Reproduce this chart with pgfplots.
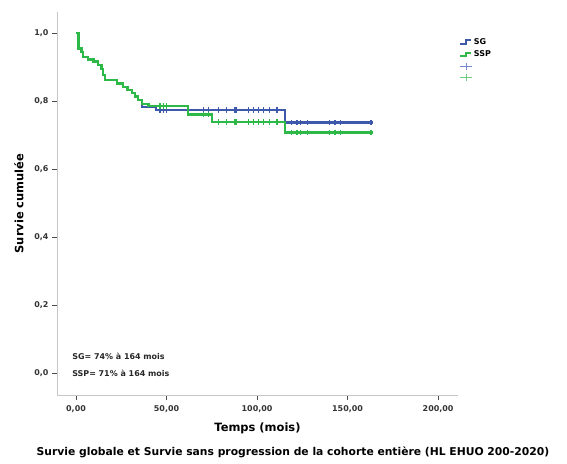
\documentclass[border=0pt]{standalone}
\usepackage{fontspec}
\setmainfont{DejaVu Sans}
\usepackage{pgfplots}
\pgfplotsset{compat=1.18}
\definecolor{sgblue}{RGB}{62,88,172}
\definecolor{sspgreen}{RGB}{46,184,72}
\definecolor{sgblueL}{RGB}{120,135,205}
\definecolor{sspgreenL}{RGB}{115,205,130}
\pgfplotsset{
  stepleg/.style={legend image code/.code={\draw[##1] (0bp,-1.8bp)--(5.5bp,-1.8bp)--(5.5bp,1.8bp)--(11bp,1.8bp);}},
  plusleg/.style={legend image code/.code={\draw[##1] (0bp,0bp)--(12bp,0bp) (6bp,-3.5bp)--(6bp,3.5bp);}},
}
\begin{document}
\begin{tikzpicture}
\useasboundingbox (0,0) rectangle (567bp,464bp);
\begin{axis}[
  at={(57bp,69bp)}, anchor=south west,
  scale only axis, width=401bp, height=383bp,
  xmin=-10.5, xmax=211, ymin=-0.065, ymax=1.062,
  axis lines=left, axis line style={gray!45, line width=0.8pt, -},
  xtick={0,50,100,150,200},
  xticklabels={{0,00},{50,00},{100,00},{150,00},{200,00}},
  ytick={0,0.2,0.4,0.6,0.8,1},
  yticklabels={{0,0},{0,2},{0,4},{0,6},{0,8},{1,0}},
  tick align=outside, major tick length=5bp,
  tick style={black!70, line width=0.6pt},
  ticklabel style={font=\fontsize{8}{9}\selectfont\bfseries, text=black!80},
  xticklabel style={yshift=-2bp},
  /pgf/number format/assume math mode=true,
  xlabel={Temps (mois)}, ylabel={Survie cumulée},
  label style={font=\fontsize{11.5}{13}\selectfont\bfseries},
  xlabel style={yshift=-3bp},
  ylabel style={yshift=4bp},
  legend style={at={(axis description cs:1,1)}, anchor=north west, xshift=1bp, yshift=-25bp,
    draw=none, fill=none, font=\fontsize{8}{9}\selectfont\bfseries, inner sep=0pt,
    row sep=2.6pt, nodes={inner sep=1.2pt, minimum height=8.5bp}},
  legend cell align=left,
]
\addlegendimage{sgblue, line width=2.2pt, stepleg}
\addlegendentry{SG}
\addlegendimage{sspgreen, line width=2.2pt, stepleg}
\addlegendentry{SSP}
\addlegendimage{sgblueL, line width=1pt, plusleg}
\addlegendentry{}
\addlegendimage{sspgreenL, line width=1pt, plusleg}
\addlegendentry{}
% SG (overall survival)
\addplot[const plot, sgblue, line width=2.3pt, forget plot] coordinates {
(0,1.000) (1.3,0.955) (3,0.945) (4,0.930) (6.5,0.922) (9.6,0.916) (12,0.905) (14,0.895)
(15,0.876) (16,0.862) (22.5,0.852) (26,0.842) (28.5,0.832) (30.8,0.823) (32.6,0.813)
(34.4,0.803) (36.3,0.783) (44,0.773) (115.5,0.737) (164,0.737)};
\addplot[only marks, mark=|, mark size=2.8bp, sgblue, line width=1.3pt, forget plot] coordinates {
(46.4,0.773) (48.3,0.773) (50,0.773) (70.3,0.773) (73,0.773) (78.6,0.773) (83.2,0.773)
(87.8,0.773) (88.8,0.773) (95.2,0.773) (98,0.773) (100.7,0.773) (103.5,0.773) (107,0.773) (111,0.773)
(119,0.737) (122,0.737) (124,0.737) (128,0.737) (140,0.737) (143,0.737) (146,0.737) (163,0.737)};
% SSP (progression-free survival)
\addplot[const plot, sspgreen, line width=2.3pt, forget plot] coordinates {
(0,1.000) (1.3,0.955) (3,0.945) (4,0.930) (6.5,0.922) (9.6,0.916) (12,0.905) (14,0.895)
(15,0.876) (16,0.862) (22.5,0.852) (26,0.842) (28.5,0.832) (30.8,0.823) (32.6,0.813)
(34.4,0.803) (36.3,0.792) (40,0.785) (62,0.760) (75,0.739) (115.5,0.707) (164,0.707)};
\addplot[only marks, mark=|, mark size=2.8bp, sspgreen, line width=1.3pt, forget plot] coordinates {
(46.4,0.785) (48.3,0.785) (50,0.785) (70.3,0.760) (73,0.760) (78.6,0.739) (83.2,0.739)
(87.8,0.739) (88.8,0.739) (95.2,0.739) (98,0.739) (100.7,0.739) (103.5,0.739) (107,0.739) (111,0.739)
(119,0.707) (122,0.707) (124,0.707) (128,0.707) (140,0.707) (143,0.707) (146,0.707) (163,0.707)};
\node[anchor=west, font=\fontsize{8}{9}\selectfont\bfseries, text=black!85] at (axis cs:-4,0.05) {SG= 74\% à 164 mois};
\node[anchor=west, font=\fontsize{8}{9}\selectfont\bfseries, text=black!85] at (axis cs:-4,0.0) {SSP= 71\% à 164 mois};
\end{axis}
\node[font=\fontsize{10.8}{12}\selectfont\bfseries] at (293bp,12bp) {Survie globale et Survie sans progression de la cohorte entière (HL EHUO 200-2020)};
\end{tikzpicture}
\end{document}
